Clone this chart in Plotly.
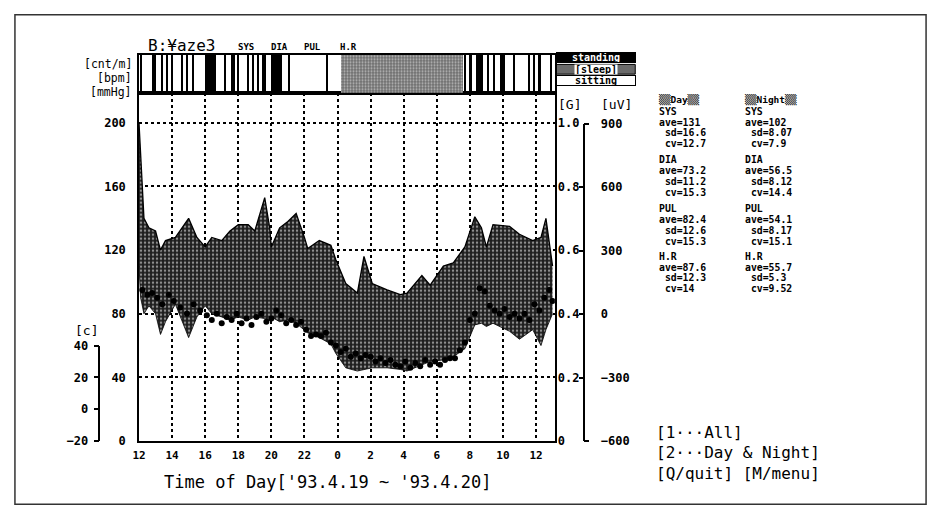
import plotly.graph_objects as go

W, H = 935, 521
def px(x): return x / W
def py(y): return 1 - y / H

# ---------------- data ----------------
t_band = [12.0, 12.1, 12.3, 12.6, 13.0, 13.3, 13.6, 14.2, 15.0, 15.5, 16.0, 16.4, 17.0, 17.5,
          18.0, 18.6, 19.0, 19.6, 19.9, 20.0, 20.5, 21.0, 21.5, 22.0, 22.2, 22.9, 23.6, 23.9,
          24.5, 25.2, 25.6, 26.1, 27.0, 27.8, 28.2, 29.1, 29.6, 30.4, 31.0, 31.7, 32.3, 32.7,
          33.0, 33.4, 34.4, 35.0, 35.8, 36.3, 36.6, 37.0]
sys_upper = [200, 180, 140, 134, 132, 120, 126, 128, 140, 128, 122, 128, 126, 132,
             136, 136, 132, 153, 134, 122, 134, 138, 143, 128, 121, 126, 123, 114,
             99, 93, 116, 99, 95, 92, 93, 104, 98, 110, 112, 122, 141, 134,
             122, 136, 135, 130, 126, 128, 140, 110]
dia_lower = [110, 90, 80, 85, 80, 67, 75, 86, 65, 78, 85, 80, 78, 76,
             78, 76, 78, 77, 76, 78, 75, 76, 74, 70, 68, 65, 61, 55,
             46, 44, 45, 46, 46, 45, 44, 48, 50, 51, 53, 58, 73, 74,
             72, 74, 69, 64, 70, 60, 70, 80]

hr_t = [12.2, 12.5, 12.8, 13.1, 13.4, 13.8, 14.1, 14.5, 14.9, 15.3, 15.7, 16.1, 16.4, 16.7,
        17.0, 17.3, 17.6, 17.9, 18.2, 18.5, 18.8, 19.1, 19.4, 19.7, 20.0, 20.3, 20.6, 20.9,
        21.2, 21.5, 21.8, 22.1, 22.4, 22.7, 23.0, 23.3, 23.6, 23.9, 24.2, 24.5, 24.8, 25.1,
        25.4, 25.7, 26.0, 26.3, 26.6, 26.9, 27.2, 27.5, 27.8, 28.1, 28.4, 28.7, 29.0, 29.3,
        29.6, 29.9, 30.2, 30.5, 30.8, 31.1, 31.4, 31.7, 32.0, 32.3, 32.6, 32.9, 33.2, 33.5,
        33.8, 34.1, 34.4, 34.7, 35.0, 35.3, 35.6, 35.9, 36.2, 36.5, 36.8, 37.0]
hr_v = [95, 92, 93, 90, 86, 92, 88, 84, 80, 86, 82, 79, 76, 80,
        74, 78, 76, 80, 74, 77, 73, 78, 80, 75, 77, 82, 79, 74,
        76, 73, 75, 70, 66, 67, 66, 68, 62, 60, 56, 58, 53, 55,
        52, 54, 53, 50, 52, 49, 51, 48, 47, 50, 46, 49, 47, 51,
        48, 50, 48, 51, 52, 52, 57, 62, 76, 80, 96, 94, 85, 82,
        80, 83, 78, 80, 77, 80, 76, 86, 82, 90, 95, 88]

act_start = [12.08, 12.8, 13.35, 13.66, 13.96, 14.56, 14.86, 15.26, 16.0, 17.16, 17.55, 17.96,
             18.56, 18.86, 19.16, 19.45, 20.0, 21.06, 23.36, 31.66, 31.95, 32.4, 33.02, 33.46,
             33.8, 34.66, 35.56, 35.86, 36.1, 36.86]
act_end = [12.16, 13.0, 13.43, 13.74, 14.04, 14.64, 14.94, 15.34, 16.65, 17.24, 17.8, 18.04,
           18.64, 18.94, 19.24, 19.7, 20.65, 21.14, 23.44, 31.74, 32.12, 32.8, 33.15, 33.54,
           34.1, 34.74, 35.64, 35.94, 36.3, 36.94]
sleep_start = [24.2]
sleep_end = [31.6]

x_tickvals = [12, 14, 16, 18, 20, 22, 24, 26, 28, 30, 32, 34, 36]
x_ticktext = ["12", "14", "16", "18", "20", "22", "0", "2", "4", "6", "8", "10", "12"]
y_ticks = [0, 40, 80, 120, 160, 200]
g_ticks = [0, 0.2, 0.4, 0.6, 0.8, 1.0]
g_text = ["0", "0.2", "0.4", "0.6", "0.8", "1.0"]
uv_ticks = [-600, -300, 0, 300, 600, 900]
c_ticks = [-20, 0, 20, 40]

stat_head = ["▒▒Day▒▒", "▒▒Night▒▒"]
stat_day = [["SYS", "ave=131", " sd=16.6", " cv=12.7"],
            ["DIA", "ave=73.2", " sd=11.2", " cv=15.3"],
            ["PUL", "ave=82.4", " sd=12.6", " cv=15.3"],
            ["H.R", "ave=87.6", " sd=12.3", " cv=14"]]
stat_night = [["SYS", "ave=102", " sd=8.07", " cv=7.9"],
              ["DIA", "ave=56.5", " sd=8.12", " cv=14.4"],
              ["PUL", "ave=54.1", " sd=8.17", " cv=15.1"],
              ["H.R", "ave=55.7", " sd=5.3", " cv=9.52"]]
stat_block_y = [107, 157, 207, 256]
stat_line_gap = 11.2

unit_labels = ["[cnt/m]", "[bpm]", "[mmHg]"]
unit_y = [59, 73, 87]

menu_lines = ["[1···All]", "[2···Day & Night]", "[Q/quit] [M/menu]"]
menu_y = [437, 458, 479]

MONO = "DejaVu Sans Mono"
X0, X1 = px(133), px(552)
YB, YT = py(446), py(88)
XR = [12, 37.14]

fig = go.Figure()

# activity band
fig.add_trace(go.Bar(x=[(a + b) / 2 for a, b in zip(act_start, act_end)],
                     width=[b - a for a, b in zip(act_start, act_end)],
                     y=[1] * len(act_start), base=0, marker=dict(color="black", line=dict(width=0)),
                     xaxis="x2", yaxis="y2", hoverinfo="skip", showlegend=False))
fig.add_trace(go.Bar(x=[(a + b) / 2 for a, b in zip(sleep_start, sleep_end)],
                     width=[b - a for a, b in zip(sleep_start, sleep_end)],
                     y=[1], base=0,
                     marker=dict(color="#8a8a8a", line=dict(width=0),
                                 pattern=dict(shape=".", fgcolor="white", bgcolor="#6e6e6e",
                                              size=3, solidity=0.4)),
                     xaxis="x2", yaxis="y2", hoverinfo="skip", showlegend=False))

# blood pressure band
fig.add_trace(go.Scatter(x=t_band, y=dia_lower, mode="lines",
                         line=dict(color="black", width=0.8), showlegend=False, hoverinfo="skip"))
fig.add_trace(go.Scatter(x=t_band, y=sys_upper, mode="lines", fill="tonexty",
                         fillcolor="#1e1e1e",
                         fillpattern=dict(shape=".", fgcolor="white", bgcolor="#1e1e1e",
                                          size=4, solidity=0.3),
                         line=dict(color="black", width=1.3), showlegend=False, hoverinfo="skip"))
fig.add_trace(go.Scatter(x=hr_t, y=hr_v, mode="markers",
                         marker=dict(color="black", size=6, symbol="circle"),
                         showlegend=False, hoverinfo="skip"))

# dummy traces to keep auxiliary axes visible
fig.add_trace(go.Scatter(x=[12], y=[0], yaxis="y3", mode="markers", marker=dict(opacity=0),
                         showlegend=False, hoverinfo="skip"))
fig.add_trace(go.Scatter(x=[0], y=[0], xaxis="x3", yaxis="y4", mode="markers",
                         marker=dict(opacity=0), showlegend=False, hoverinfo="skip"))
fig.add_trace(go.Scatter(x=[0], y=[0], xaxis="x3", yaxis="y6", mode="markers",
                         marker=dict(opacity=0), showlegend=False, hoverinfo="skip"))
fig.add_trace(go.Scatter(x=[0], y=[0], xaxis="x4", yaxis="y5", mode="markers",
                         marker=dict(opacity=0), showlegend=False, hoverinfo="skip"))

tickf = dict(family=MONO, size=12, color="black", weight="bold")
fig.update_layout(
    width=W, height=H, margin=dict(l=0, r=0, t=0, b=0),
    paper_bgcolor="white", plot_bgcolor="rgba(0,0,0,0)",
    font=dict(family=MONO, color="black"),
    bargap=0, barmode="overlay",
    xaxis=dict(domain=[X0, X1], range=XR, anchor="y", tickvals=x_tickvals, ticktext=x_ticktext,
               showgrid=True, gridcolor="black", griddash="dot", gridwidth=1.5,
               showline=True, linecolor="black", linewidth=1.5, mirror=True, ticks="",
               zeroline=False, tickfont=dict(family=MONO, size=11, color="black", weight="bold"),
               ticklabelstandoff=3),
    yaxis=dict(domain=[YB, YT], range=[0, 219], anchor="x", tickvals=y_ticks,
               showgrid=True, gridcolor="black", griddash="dot", gridwidth=1.5,
               showline=True, linecolor="black", linewidth=1.5, mirror=True, ticks="",
               zeroline=False, tickfont=tickf, ticklabelstandoff=9),
    xaxis2=dict(domain=[X0, X1], range=XR, anchor="y2", showticklabels=False, showgrid=False,
                showline=True, linecolor="black", linewidth=1.5, mirror=True, ticks="", zeroline=False),
    yaxis2=dict(domain=[YT, py(49)], range=[0, 1], anchor="x2", showticklabels=False, showgrid=False,
                showline=True, linecolor="black", linewidth=1.5, mirror=True, ticks="", zeroline=False),
    yaxis3=dict(overlaying="y", side="right", anchor="x", range=[0, 1.095], tickvals=g_ticks,
                ticktext=g_text, showgrid=False, showline=False, ticks="", zeroline=False,
                tickfont=tickf, ticklabelstandoff=2),
    xaxis3=dict(domain=[px(579), px(580)], visible=False, range=[0, 1], anchor="y4"),
    yaxis4=dict(domain=[YB, py(120)], range=[-600, 900], anchor="x3", side="right",
                tickvals=uv_ticks, showgrid=False, showline=True, linecolor="black", linewidth=1.5,
                ticks="inside", ticklen=4, tickwidth=1.5, tickcolor="black", zeroline=False,
                tickfont=tickf, ticklabelstandoff=14),
    yaxis6=dict(overlaying="y4", range=[-600, 900], anchor="x3", side="right",
                tickvals=[-600, 900], showticklabels=False, showgrid=False, showline=False,
                ticks="outside", ticklen=5, tickwidth=1.5, tickcolor="black", zeroline=False),
    xaxis4=dict(domain=[px(94), px(96)], visible=False, range=[0, 1], anchor="y5"),
    yaxis5=dict(domain=[YB, py(348)], range=[-20, 40], anchor="x4", side="left",
                tickvals=c_ticks, showgrid=False, showline=True, linecolor="black", linewidth=1.5,
                ticks="outside", ticklen=5, tickwidth=1.5, tickcolor="black", zeroline=False,
                tickfont=tickf, ticklabelstandoff=3),
)

ann = []
def text(x, y, s, size=12, xanchor="left", weight="normal", **kw):
    ann.append(dict(x=px(x), y=py(y), xref="paper", yref="paper", text=s, showarrow=False,
                    xanchor=xanchor, yanchor="middle",
                    font=dict(family=MONO, size=size, color=kw.pop("color", "black"), weight=weight), **kw))

text(140, 40, "B:¥aze3", 16)
for s, x in zip(["SYS", "DIA", "PUL", "H.R"], [231, 264, 297, 333]):
    text(x, 41, s, 9, weight="bold")
for s, y in zip(unit_labels, unit_y):
    text(128, y, s, 11.5, xanchor="right")
text(553, 100, "[G]", 13)
text(596, 100, "[uV]", 13)
text(66, 332, "[c]", 13)
text(323, 488, "Time of Day['93.4.19 ~ '93.4.20]", 17, xanchor="center")
for s, y in zip(menu_lines, menu_y):
    text(652, y, s, 16)

# statistics panel
for head, blocks, x in [(stat_head[0], stat_day, 655), (stat_head[1], stat_night, 742)]:
    text(x, 95, head, 9.5, weight="bold")
    for block, y0 in zip(blocks, stat_block_y):
        for i, s in enumerate(block):
            text(x, y0 + i * stat_line_gap, s.replace(" ", "&nbsp;"), 9.8, weight="bold")

# legend boxes for posture
text(593, 52, "standing", 10, xanchor="center", weight="bold", color="white",
     bgcolor="black", bordercolor="black", borderwidth=1, borderpad=0, width=78, height=9)
text(593, 64, "[sleep]", 10, xanchor="center", weight="bold",
     bgcolor="white", borderpad=0, height=9)
text(593, 76, "sitting", 10, xanchor="center", weight="bold",
     bgcolor="white", bordercolor="black", borderwidth=1, borderpad=0, width=78, height=9)
fig.update_layout(annotations=ann)

fig.update_layout(shapes=[
    dict(type="rect", xref="paper", yref="paper", x0=px(553), x1=px(633), y0=py(69), y1=py(59),
         fillcolor="#6a6a6a", line=dict(color="black", width=1), layer="below"),
    dict(type="rect", xref="paper", yref="paper", x0=px(8), x1=px(926), y0=py(511), y1=py(8),
         line=dict(color="#333", width=1.5)),
])

fig.write_html("out.html")
